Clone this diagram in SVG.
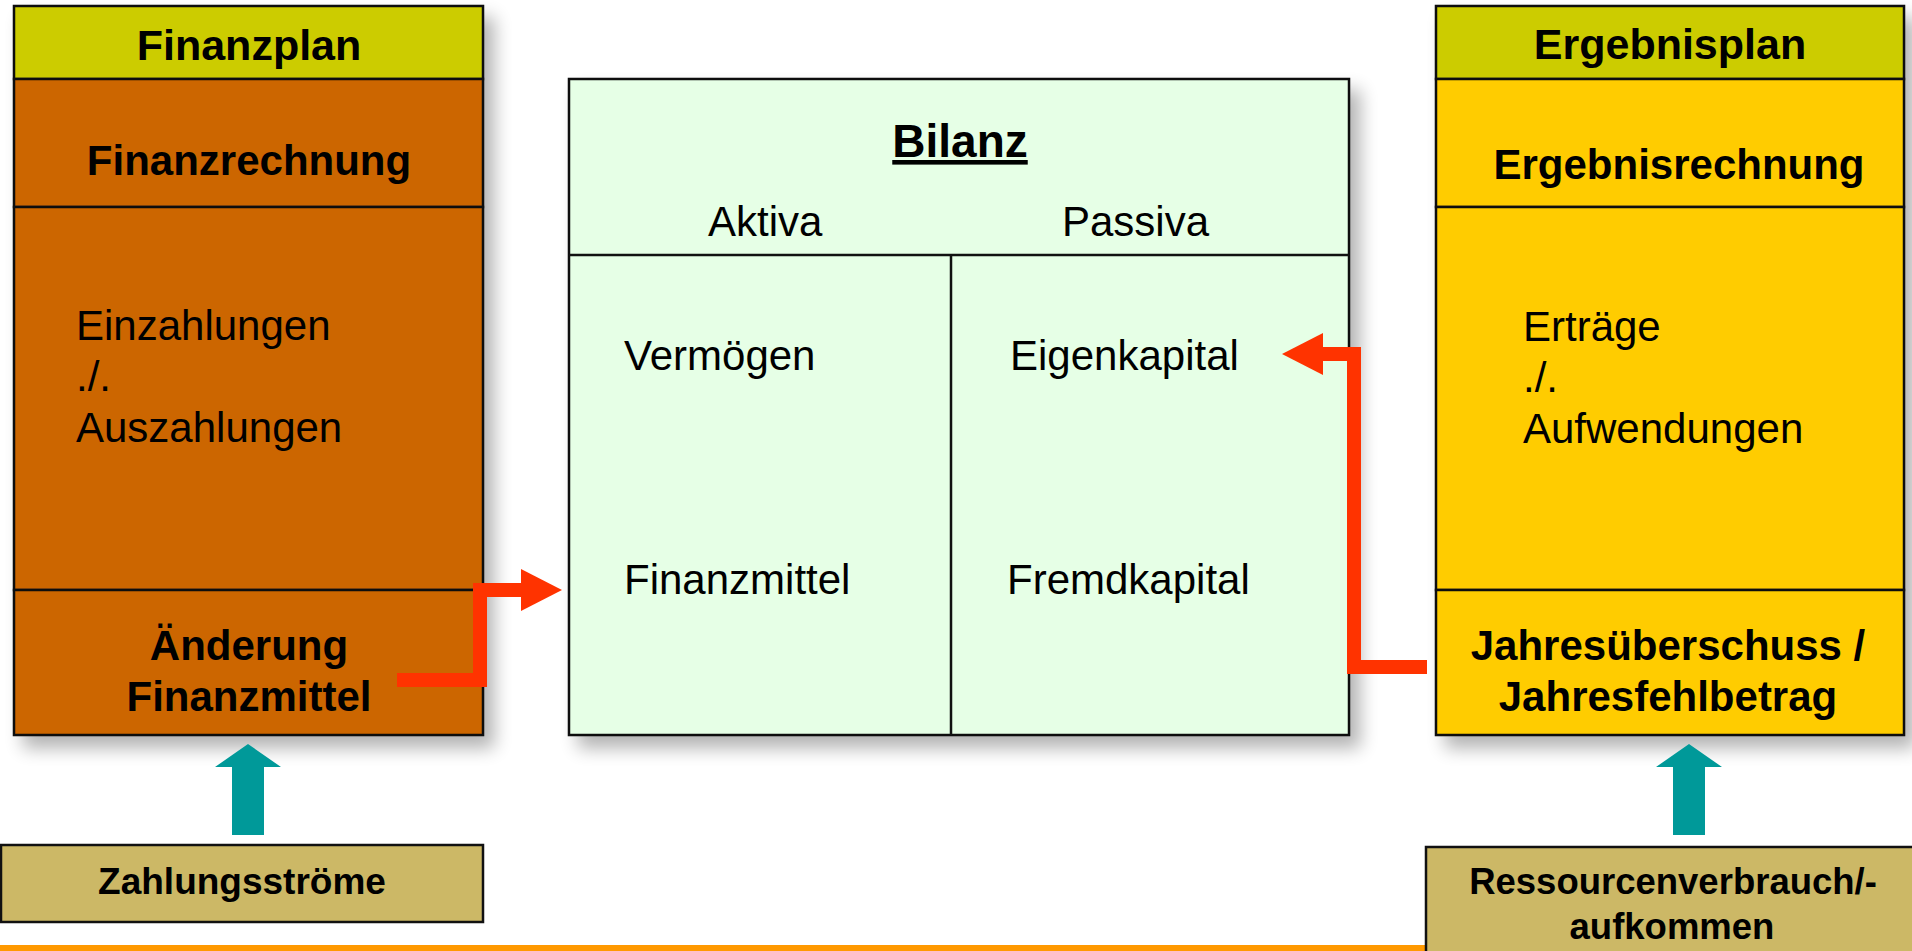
<svg xmlns="http://www.w3.org/2000/svg" xmlns:xlink="http://www.w3.org/1999/xlink" width="1912" height="951" viewBox="0 0 1912 951">
<defs>
<style>
.t{font-family:"Liberation Sans",Arial,sans-serif;fill:#000}
.b{font-weight:bold;font-size:42px;text-anchor:middle}
.h{font-weight:bold;font-size:43px;text-anchor:middle}
.r{font-size:42px}
.box{stroke:#111;stroke-width:2.5}
.hdr{fill:#CCCC00}
.fin{fill:#CC6600}
.erg{fill:#FFCC00}
.bil{fill:#E6FFE6}
.src{fill:#CCB866}
.ln{stroke:#111;stroke-width:2.5;fill:none}
.red{stroke:#FF3300;stroke-width:14;fill:none;stroke-linejoin:miter}
.teal{fill:#009999}
</style>
<filter id="sh" x="-10%" y="-10%" width="130%" height="130%">
<feGaussianBlur in="SourceAlpha" stdDeviation="9"/>
<feOffset dx="10" dy="12" result="o"/>
<feComponentTransfer><feFuncA type="linear" slope="0.3"/></feComponentTransfer>
<feMerge><feMergeNode/><feMergeNode in="SourceGraphic"/></feMerge>
</filter>
<marker id="ah" markerUnits="userSpaceOnUse" markerWidth="42" markerHeight="42" refX="0" refY="21" orient="auto">
<path d="M0,0 L41,21 L0,42 Z" fill="#FF3300"/>
</marker>
<path id="up" d="M0,0 L33,23 L16,23 L16,91 L-16,91 L-16,23 L-33,23 Z"/>
</defs>
<rect x="0" y="0" width="1912" height="951" fill="#FFFFFF"/>
<rect x="0" y="945" width="1912" height="6" fill="#FF9900"/>

<g id="finanzplan">
<g filter="url(#sh)">
<rect class="box hdr" x="14" y="6" width="469" height="73"/>
<rect class="box fin" x="14" y="79" width="469" height="128"/>
<rect class="box fin" x="14" y="207" width="469" height="383"/>
<rect class="box fin" x="14" y="590" width="469" height="145"/>
</g>
<text class="t h" x="249" y="60">Finanzplan</text>
<text class="t b" x="249" y="175">Finanzrechnung</text>
<text class="t r" x="76" y="340">Einzahlungen</text>
<text class="t r" x="76" y="391">./.</text>
<text class="t r" x="76" y="442">Auszahlungen</text>
<text class="t b" x="249" y="660">Änderung</text>
<text class="t b" x="249" y="711">Finanzmittel</text>
</g>

<g id="bilanz">
<rect class="box bil" x="569" y="79" width="780" height="656" filter="url(#sh)"/>
<line class="ln" x1="569" y1="255" x2="1349" y2="255"/>
<line class="ln" x1="951" y1="255" x2="951" y2="735"/>
<text class="t" x="960" y="157" font-size="46" font-weight="bold" text-anchor="middle" text-decoration="underline">Bilanz</text>
<text class="t r" x="708" y="236">Aktiva</text>
<text class="t r" x="1062" y="236">Passiva</text>
<text class="t r" x="624" y="370">Vermögen</text>
<text class="t r" x="624" y="594">Finanzmittel</text>
<text class="t r" x="1010" y="370">Eigenkapital</text>
<text class="t r" x="1007" y="594">Fremdkapital</text>
</g>

<g id="ergebnisplan">
<g filter="url(#sh)">
<rect class="box hdr" x="1436" y="6" width="468" height="73"/>
<rect class="box erg" x="1436" y="79" width="468" height="128"/>
<rect class="box erg" x="1436" y="207" width="468" height="383"/>
<rect class="box erg" x="1436" y="590" width="468" height="145"/>
</g>
<text class="t h" x="1670" y="59">Ergebnisplan</text>
<text class="t b" x="1679" y="179">Ergebnisrechnung</text>
<text class="t r" x="1523" y="341">Erträge</text>
<text class="t r" x="1523" y="392">./.</text>
<text class="t r" x="1523" y="443">Aufwendungen</text>
<text class="t b" x="1668" y="660">Jahresüberschuss /</text>
<text class="t b" x="1668" y="711">Jahresfehlbetrag</text>
</g>

<g id="zahlungsstroeme">
<rect class="box src" x="1" y="845" width="482" height="77"/>
<text class="t" x="242" y="894" font-size="37" font-weight="bold" text-anchor="middle">Zahlungsströme</text>
</g>

<g id="ressourcen">
<rect class="box src" x="1426" y="847" width="500" height="120"/>
<text class="t" x="1673" y="894" font-size="36.5" font-weight="bold" text-anchor="middle">Ressourcenverbrauch/-</text>
<text class="t" x="1672" y="939" font-size="36.5" font-weight="bold" text-anchor="middle">aufkommen</text>
</g>

<g id="connectors">
<path class="red" d="M397,680 L480,680 L480,590 L521,590" marker-end="url(#ah)"/>
<path class="red" d="M1427,667 L1354,667 L1354,354 L1323,354" marker-end="url(#ah)"/>
<use xlink:href="#up" class="teal" x="248" y="744"/>
<use xlink:href="#up" class="teal" x="1689" y="744"/>
</g>
</svg>
